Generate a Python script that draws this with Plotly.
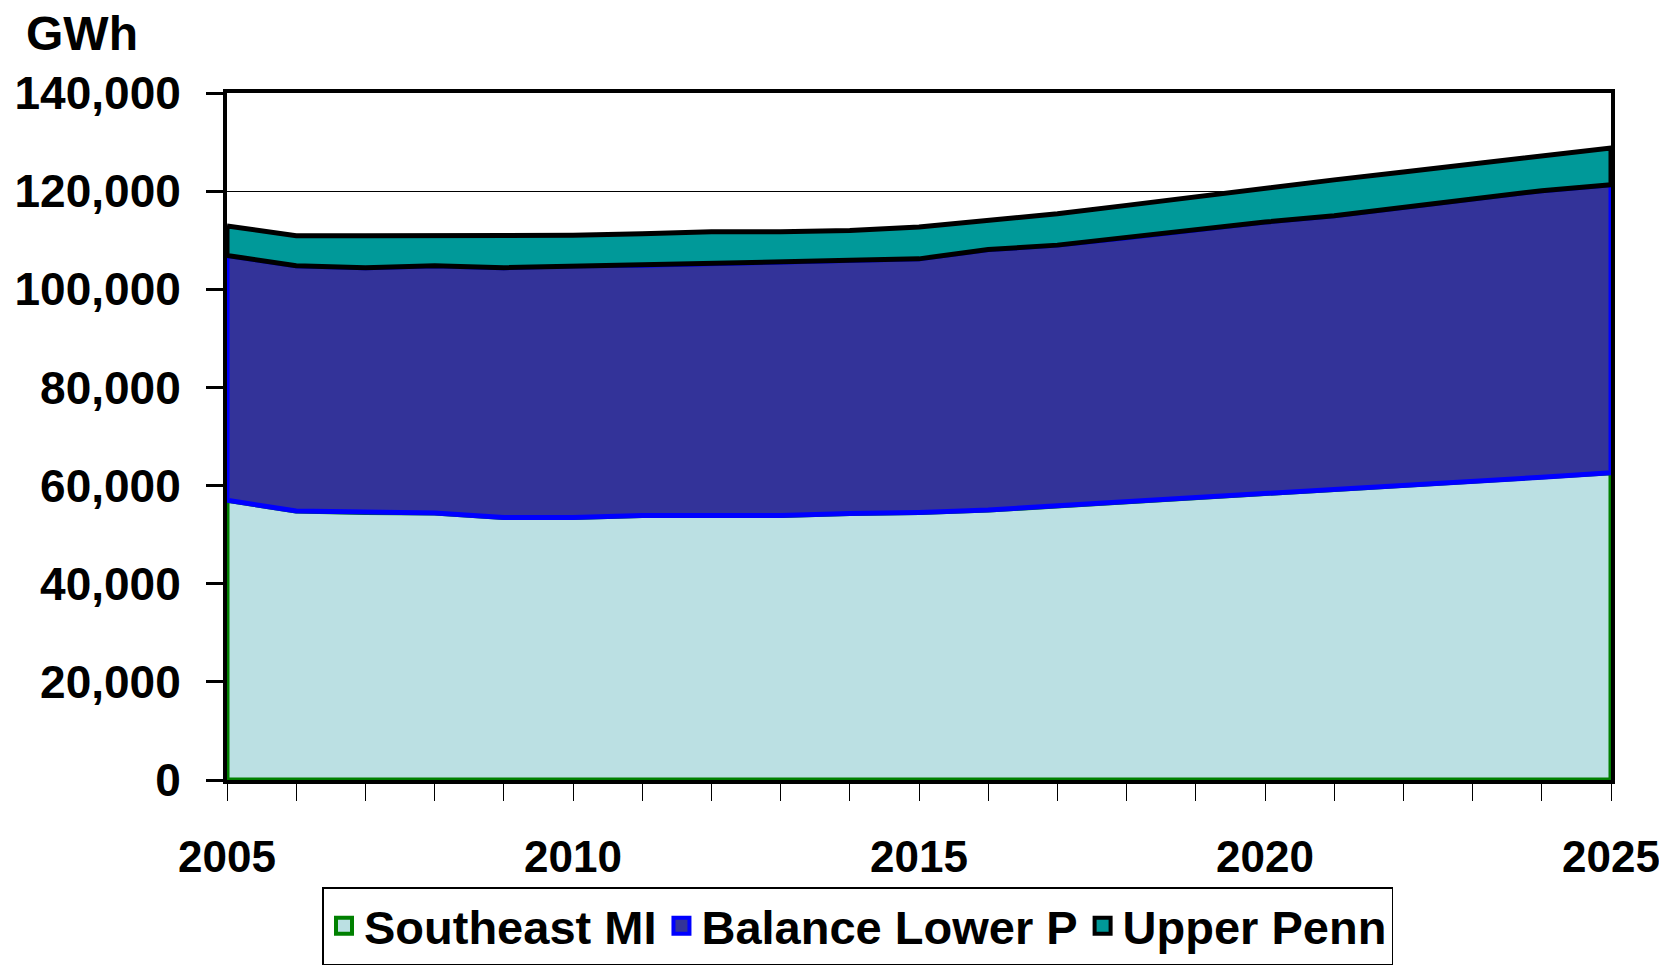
import plotly.graph_objects as go

years = list(range(2005, 2026))
southeast_mi = [57000, 54800, 54500, 54400, 53500, 53500, 53900, 53900, 53900, 54300, 54500,
                55000, 55900, 56700, 57500, 58400, 59200, 60000, 60900, 61700, 62600]
balance_lower_p = [49900, 50000, 49900, 50400, 50900, 51300, 51000, 51300, 51700, 51600, 51700,
                   53100, 53100, 53800, 54600, 55300, 55800, 56700, 57500, 58400, 58700]
upper_penn = [6000, 6100, 6500, 6100, 6500, 6200, 6400, 6500, 6100, 6100, 6500,
              5900, 6400, 6600, 6800, 7000, 7300, 7200, 7100, 7100, 7500]
series_names = ["Southeast MI", "Balance Lower P", "Upper Penn"]
fill_colors = ["#BBE0E3", "#333399", "#009999"]
line_colors = ["#008000", "#0000FF", "#000000"]
y_ticks = [0, 20000, 40000, 60000, 80000, 100000, 120000, 140000]
x_label_years = [2005, 2010, 2015, 2020, 2025]

FONT = "Liberation Sans, Arial, sans-serif"

fig = go.Figure()
lower = [0] * len(years)
for name, vals, fc, lc in zip(series_names, [southeast_mi, balance_lower_p, upper_penn], fill_colors, line_colors):
    upper = [a + b for a, b in zip(lower, vals)]
    xs = years + years[::-1] + [years[0]]
    ys = upper + lower[::-1] + [upper[0]]
    fig.add_trace(go.Scatter(x=xs, y=ys, mode="lines", fill="toself", fillcolor=fc,
                             line=dict(color=lc, width=5), name=name, showlegend=False,
                             hoverinfo="skip"))
    lower = upper

# legend entries (square swatches)
for name, fc, lc in zip(series_names, fill_colors, line_colors):
    fig.add_trace(go.Scatter(x=[None], y=[None], mode="markers", name=name,
                             marker=dict(symbol="square", size=16, color=fc,
                                         line=dict(color=lc, width=4))))

fig.update_layout(
    width=1667, height=969,
    margin=dict(l=219, r=64, t=85, b=183),
    plot_bgcolor="white", paper_bgcolor="white",
    showlegend=True,
    legend=dict(orientation="h", x=0.069, y=-0.156, xanchor="left", yanchor="top",
                bordercolor="black", borderwidth=1.5,
                font=dict(family=FONT, size=47, color="black", weight="bold"),
                itemwidth=30, traceorder="normal"),
)
fig.add_annotation(text="<b>GWh</b>", xref="paper", yref="paper",
                   x=-0.147, y=1.086, xanchor="left", yanchor="middle", showarrow=False,
                   font=dict(family=FONT, size=48, color="black"))

fig.update_xaxes(range=[years[0], years[-1]], tickmode="array", tickvals=years,
                 ticktext=[str(y) if y in x_label_years else "" for y in years],
                 ticks="outside", ticklen=17, tickwidth=1, tickcolor="black",
                 ticklabelstandoff=18, automargin=False,
                 showgrid=False, zeroline=False,
                 showline=True, linecolor="black", linewidth=4, mirror=True,
                 tickfont=dict(family=FONT, size=44, color="black", weight="bold"))
fig.update_yaxes(range=[0, 140000], tickmode="array", tickvals=y_ticks, tickformat=",d",
                 ticks="outside", ticklen=17, tickwidth=3, tickcolor="black",
                 ticklabelstandoff=16, automargin=False,
                 showgrid=True, gridcolor="black", gridwidth=1, zeroline=False,
                 showline=True, linecolor="black", linewidth=4, mirror=True,
                 tickfont=dict(family=FONT, size=46, color="black", weight="bold"))

fig.write_html("out.html")
